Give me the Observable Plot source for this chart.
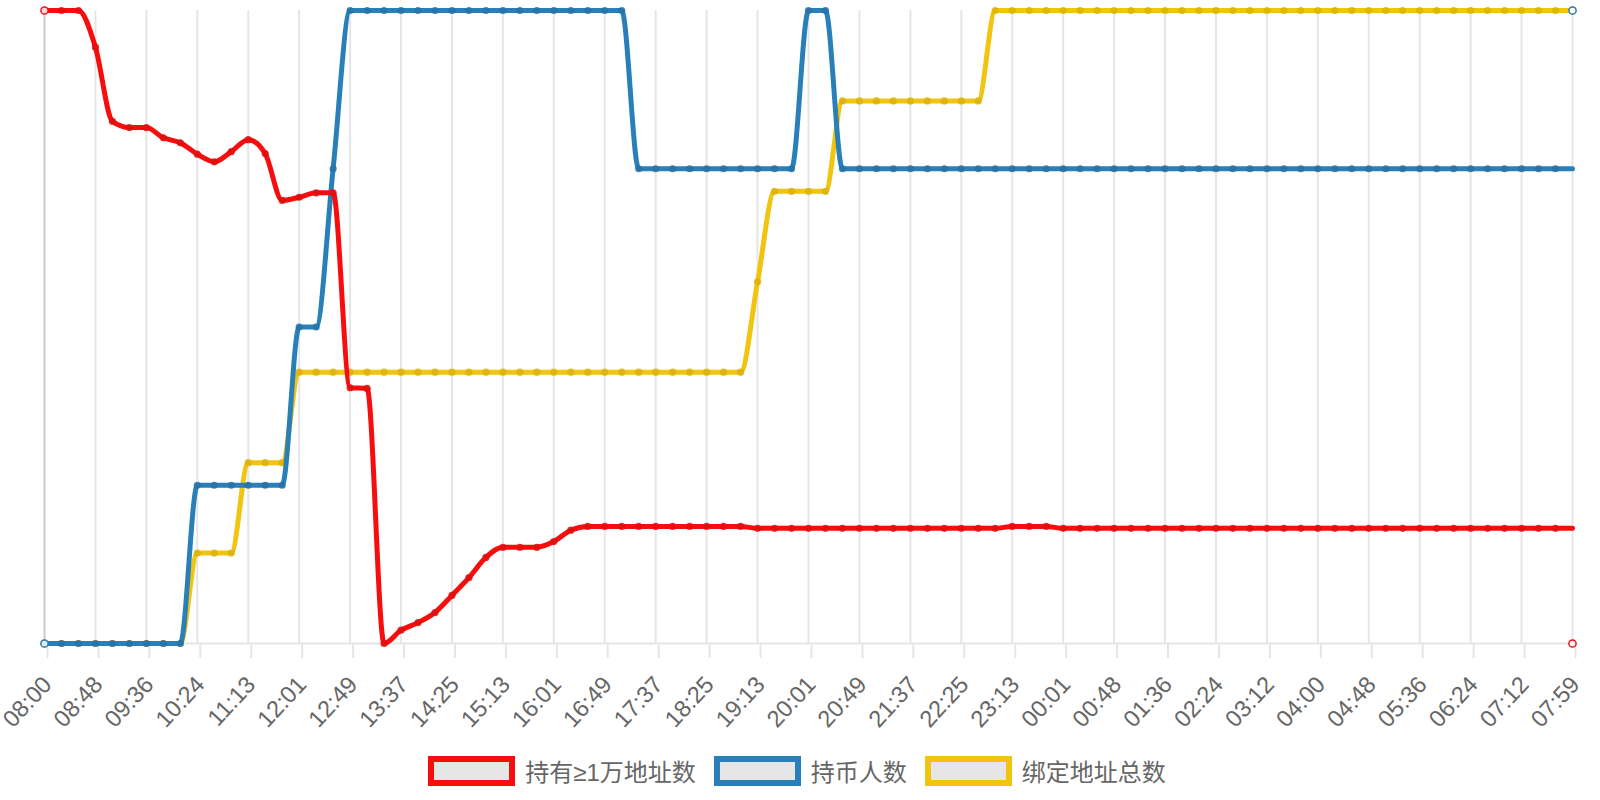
<!DOCTYPE html>
<html>
<head>
<meta charset="utf-8">
<script src="https://cdn.jsdelivr.net/npm/d3@7"></script>
<script src="https://cdn.jsdelivr.net/npm/@observablehq/plot@0.6"></script>
<style>
  html, body { margin: 0; padding: 0; background: #fff; }
  body { width: 1600px; height: 800px; overflow: hidden; font-family: "Liberation Sans", Arial, "Noto Sans CJK SC", sans-serif; }
  #chart svg { display: block; }
  .legend { display: flex; justify-content: center; align-items: center; padding-top: 18px; padding-right: 6px; }
  .item { display: flex; align-items: center; margin: 0 9px; }
  .box { width: 87px; height: 30px; box-sizing: border-box; border: 6px solid; background: #e6e6e6; }
  .lbl { margin-left: 10px; font-size: 24px; color: #666; font-family: "Liberation Sans", Arial, "Noto Sans CJK SC", sans-serif; }
</style>
</head>
<body>
<div id="chart"></div>
<div class="legend" id="legend"></div>
<script>
// ---- data ----
const tickLabels = ["08:00","08:48","09:36","10:24","11:13","12:01","12:49","13:37","14:25","15:13","16:01","16:49","17:37","18:25","19:13","20:01","20:49","21:37","22:25","23:13","00:01","00:48","01:36","02:24","03:12","04:00","04:48","05:36","06:24","07:12","07:59"];

const seriesNames = ["持有≥1万地址数", "持币人数", "绑定地址总数"];
const seriesColors = ["#f70d0d", "#2980b9", "#f1c40f"];
const dotColors = ["#de1010", "#2672a6", "#dcb20f"];

// 持有≥1万地址数 (relative level, 0–100 of its own range)
const holders10k = [100,100,100,94.2,82.5,81.5,81.5,79.9,79.1,77.3,
  76.1,77.7,79.6,77.4,70.0,70.5,71.2,71.2,40.4,40.3,
  0,2.1,3.3,4.9,7.6,10.4,13.6,15.2,15.2,15.2,
  16.1,17.9,18.5,18.5,18.5,18.5,18.5,18.5,18.5,18.5,
  18.5,18.5,18.2,18.2,18.2,18.2,18.2,18.2,18.2,18.2,
  18.2,18.2,18.2,18.2,18.2,18.2,18.2,18.5,18.5,18.5,
  18.2,18.2,18.2,18.2,18.2,18.2,18.2,18.2,18.2,18.2,
  18.2,18.2,18.2,18.2,18.2,18.2,18.2,18.2,18.2,18.2,
  18.2,18.2,18.2,18.2,18.2,18.2,18.2,18.2,18.2,18.2,18.2];

// 持币人数
const holders = [0,0,0,0,0,0,0,0,0,1,
  1,1,1,1,1,2,2,3,4,4,
  4,4,4,4,4,4,4,4,4,4,
  4,4,4,4,4,3,3,3,3,3,
  3,3,3,3,3,4,4,3,3,3,
  3,3,3,3,3,3,3,3,3,3,
  3,3,3,3,3,3,3,3,3,3,
  3,3,3,3,3,3,3,3,3,3,
  3,3,3,3,3,3,3,3,3,3,3];

// 绑定地址总数
const boundAddrs = [0,0,0,0,0,0,0,0,0,1,
  1,1,2,2,2,3,3,3,3,3,
  3,3,3,3,3,3,3,3,3,3,
  3,3,3,3,3,3,3,3,3,3,
  3,3,4,5,5,5,5,6,6,6,
  6,6,6,6,6,6,7,7,7,7,
  7,7,7,7,7,7,7,7,7,7,
  7,7,7,7,7,7,7,7,7,7,
  7,7,7,7,7,7,7,7,7,7,7];

const allSeries = [holders10k, holders, boundAddrs];
const tables = allSeries.map((vals, s) => vals.map((v, i) => ({i, v, s, n: vals.length})));
const tickIdx = tickLabels.map((_, k) => k * 3);

// draw order: last dataset at bottom, first on top
const marks = [
  Plot.gridX(tickIdx, {stroke: "#e6e6e6", strokeOpacity: 1, strokeWidth: 2}),
  Plot.ruleY([0], {stroke: "#e6e6e6", strokeWidth: 2}),
  Plot.ruleX([0], {stroke: "#cfcfcf", strokeWidth: 2}),
  Plot.axisX({ticks: tickIdx, tickSize: 15, tickPadding: 22, tickRotate: -47,
    label: null,
    tickFormat: d => tickLabels[Math.round(d / 3)],
    stroke: "#e6e6e6", strokeWidth: 2, fill: "#666", fontSize: 23.5,
    fontFamily: "Liberation Sans, Arial, sans-serif", dx: 3})
];
for (const s of [2, 1, 0]) {
  const data = tables[s];
  marks.push(Plot.lineY(data, Plot.normalizeY("extent", {x: "i", y: "v",
    stroke: seriesColors[s], strokeWidth: 5, curve: "monotone-x"})));
  marks.push(Plot.dot(data, Plot.normalizeY("extent", {x: "i", y: "v", r: 3.6,
    fill: d => (d.i === 0 || d.i === d.n - 1) ? "#fff" : dotColors[s],
    fillOpacity: 0.85,
    stroke: d => (d.i === 0 || d.i === d.n - 1) ? seriesColors[s] : "none",
    strokeWidth: 1.5})));
}

const chart = Plot.plot({
  width: 1600,
  height: 735,
  marginLeft: 44,
  marginRight: 28,
  marginTop: 10,
  marginBottom: 92,
  x: {type: "linear", domain: [0, 90], axis: null, label: null},
  y: {domain: [0, 1], axis: null, label: null},
  style: {background: "#fff"},
  marks
});
document.getElementById("chart").appendChild(chart);

const legend = document.getElementById("legend");
seriesNames.forEach((name, s) => {
  const item = document.createElement("div");
  item.className = "item";
  const box = document.createElement("div");
  box.className = "box";
  box.style.borderColor = seriesColors[s];
  const lbl = document.createElement("span");
  lbl.className = "lbl";
  lbl.textContent = name;
  item.appendChild(box);
  item.appendChild(lbl);
  legend.appendChild(item);
});
</script>
</body>
</html>
